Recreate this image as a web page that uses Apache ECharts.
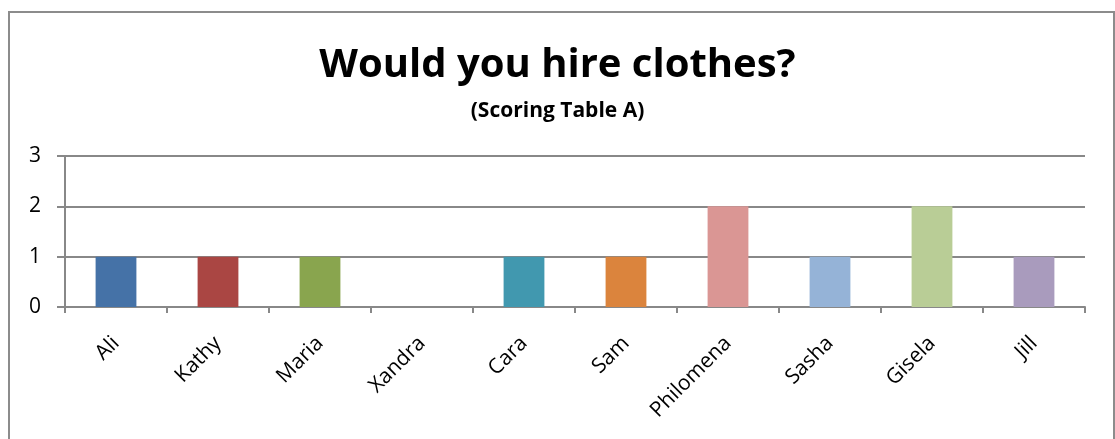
<!DOCTYPE html>
<html>
<head>
<meta charset="utf-8">
<script src="https://cdn.jsdelivr.net/npm/echarts@6/dist/echarts.min.js"></script>
<style>
  html, body { margin: 0; padding: 0; background: #fff; }
  #chart { width: 1115px; height: 439px; }
</style>
</head>
<body>
<div id="chart"></div>
<script>
// Responses per person
const names = ['Ali', 'Kathy', 'Maria', 'Xandra', 'Cara', 'Sam', 'Philomena', 'Sasha', 'Gisela', 'Jill'];
const scores = [1, 1, 1, 0, 1, 1, 2, 1, 2, 1];
const barColors = ['#4572A7', '#AA4643', '#89A54E', '#80699B', '#4198AF', '#DB843D',
                   '#DA9694', '#95B3D7', '#B9CD96', '#A99BBD'];
const yTicks = [0, 1, 2, 3];

const FONT = '"Open Sans", "Noto Sans", sans-serif';
const gridColor = '#888888';

const chart = echarts.init(document.getElementById('chart'), null, { renderer: 'canvas' });

chart.setOption({
  animation: false,
  backgroundColor: '#ffffff',
  title: [
    {
      text: 'Would you hire clothes?',
      left: 'center',
      top: 41,
      textStyle: { fontFamily: FONT, fontWeight: 'bold', fontSize: 40, color: '#000' }
    },
    {
      text: '(Scoring Table A)',
      left: 'center',
      top: 96,
      textStyle: { fontFamily: FONT, fontWeight: 'bold', fontSize: 21, color: '#000' }
    }
  ],
  graphic: [
    {
      type: 'rect',
      shape: { x: 9, y: 12, width: 1105, height: 460 },
      style: { fill: 'none', stroke: '#8c8c8c', lineWidth: 2 },
      silent: true
    }
  ],
  grid: { left: 65, right: 30, top: 156, bottom: 132, containLabel: false },
  xAxis: {
    type: 'category',
    data: names,
    axisLine: { show: true, lineStyle: { color: gridColor, width: 2 } },
    axisTick: { show: true, alignWithLabel: false, length: 6, lineStyle: { color: gridColor, width: 2 } },
    axisLabel: {
      interval: 0,
      rotate: 45,
      margin: 33,
      fontFamily: FONT,
      fontSize: 21,
      color: '#000'
    },
    splitLine: { show: false }
  },
  yAxis: {
    type: 'value',
    min: yTicks[0],
    max: yTicks[yTicks.length - 1],
    interval: 1,
    axisLine: { show: true, lineStyle: { color: gridColor, width: 2 } },
    axisTick: { show: true, length: 8, inside: false, lineStyle: { color: gridColor, width: 2 } },
    axisLabel: { margin: 24, fontFamily: FONT, fontSize: 21, color: '#000' },
    splitLine: { show: true, lineStyle: { color: gridColor, width: 2 } }
  },
  series: [
    {
      type: 'bar',
      barWidth: '40%',
      data: scores.map((v, i) => ({ value: v, itemStyle: { color: barColors[i] } }))
    }
  ]
});
</script>
</body>
</html>
